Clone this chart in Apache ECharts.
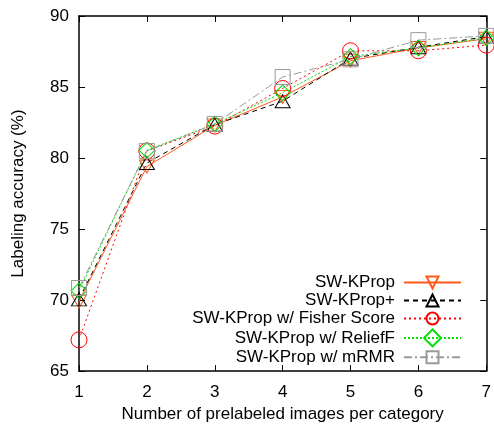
<!DOCTYPE html>
<html>
<head>
<meta charset="utf-8">
<script src="https://cdn.jsdelivr.net/npm/echarts@6/dist/echarts.min.js"></script>
<style>
  html, body { margin: 0; padding: 0; background: #fff; }
  #chart { width: 494px; height: 428px; }
</style>
</head>
<body>
<div id="chart"></div>
<script>
// 横轴：每类预标注图像数
const xValues = [1, 2, 3, 4, 5, 6, 7];
const yTicks = [65, 70, 75, 80, 85, 90];

// 各方法的标注准确率 (%)
const swKProp = [69.9, 79.4, 82.3, 84.3, 86.85, 87.75, 88.4];
const swKPropPlus = [70.05, 79.65, 82.35, 84.0, 87.0, 87.8, 88.55];
const fisherScore = [67.2, 80.5, 82.25, 84.9, 87.55, 87.55, 87.95];
const reliefF = [70.65, 80.55, 82.4, 84.6, 87.15, 87.75, 88.45];
const mRMR = [70.85, 80.5, 82.4, 85.7, 86.95, 88.3, 88.6];

const FONT = 'Liberation Sans, Arial, sans-serif';
const FS = 17;

const pairs = (ys) => xValues.map((x, i) => [x, ys[i]]);

// 生成一条折线系列
const makeSeries = (name, data, color, lineType, symbol, size, rotate) => ({
  name,
  type: 'line',
  data: pairs(data),
  symbol,
  symbolSize: size,
  symbolRotate: rotate || 0,
  showAllSymbol: true,
  lineStyle: { color, width: 1, type: lineType },
  itemStyle: { color: 'rgba(0,0,0,0)', borderColor: color, borderWidth: 1 },
  emphasis: { disabled: true },
  z: 2
});

const chart = echarts.init(document.getElementById('chart'));

const tickInside = { show: true, inside: true, length: 6, lineStyle: { color: '#000' } };

chart.setOption({
  animation: false,
  backgroundColor: '#fff',
  grid: { left: 79, right: 6, top: 16, bottom: 55 },
  legend: {
    orient: 'vertical',
    right: 27,
    top: 269,
    align: 'right',
    itemWidth: 57,
    itemHeight: 15,
    itemGap: 1,
    textStyle: { fontFamily: FONT, fontSize: FS, color: '#000', padding: [0, 4, 0, 0] },
    data: ['SW-KProp', 'SW-KProp+', 'SW-KProp w/ Fisher Score', 'SW-KProp w/ ReliefF', 'SW-KProp w/ mRMR']
  },
  xAxis: [{
    type: 'value',
    min: 1,
    max: 7,
    interval: 1,
    name: 'Number of prelabeled images per category',
    nameLocation: 'middle',
    nameGap: 32,
    nameTextStyle: { fontFamily: FONT, fontSize: FS, color: '#000' },
    axisLine: { show: true, lineStyle: { color: '#000', width: 1.5 } },
    axisTick: tickInside,
    axisLabel: { fontFamily: FONT, fontSize: FS, color: '#000', margin: 13 },
    splitLine: { show: false }
  }, {
    type: 'value',
    position: 'top',
    min: 1,
    max: 7,
    interval: 1,
    axisLine: { show: true, lineStyle: { color: '#000', width: 1.5 } },
    axisTick: tickInside,
    axisLabel: { show: false },
    splitLine: { show: false }
  }],
  yAxis: [{
    type: 'value',
    min: yTicks[0],
    max: yTicks[yTicks.length - 1],
    interval: 5,
    name: 'Labeling accuracy (%)',
    nameLocation: 'middle',
    nameGap: 52,
    nameTextStyle: { fontFamily: FONT, fontSize: FS, color: '#000' },
    axisLine: { show: true, lineStyle: { color: '#000', width: 1.5 } },
    axisTick: tickInside,
    axisLabel: { fontFamily: FONT, fontSize: FS, color: '#000', margin: 10 },
    splitLine: { show: false }
  }, {
    type: 'value',
    position: 'right',
    min: yTicks[0],
    max: yTicks[yTicks.length - 1],
    interval: 5,
    axisLine: { show: true, lineStyle: { color: '#000', width: 1.5 } },
    axisTick: tickInside,
    axisLabel: { show: false },
    splitLine: { show: false }
  }],
  series: [
    makeSeries('SW-KProp', swKProp, '#ff5a1a', 'solid', 'triangle', [15, 13], 180),
    makeSeries('SW-KProp+', swKPropPlus, '#000000', [5, 4], 'triangle', [15, 13], 0),
    makeSeries('SW-KProp w/ Fisher Score', fisherScore, '#ff0000', [2, 3], 'circle', 16, 0),
    makeSeries('SW-KProp w/ ReliefF', reliefF, '#00e000', [2, 2], 'rect', 11, 45),
    makeSeries('SW-KProp w/ mRMR', mRMR, '#999999', [8, 3, 2, 3], 'rect', 15, 0)
  ]
});
</script>
</body>
</html>
